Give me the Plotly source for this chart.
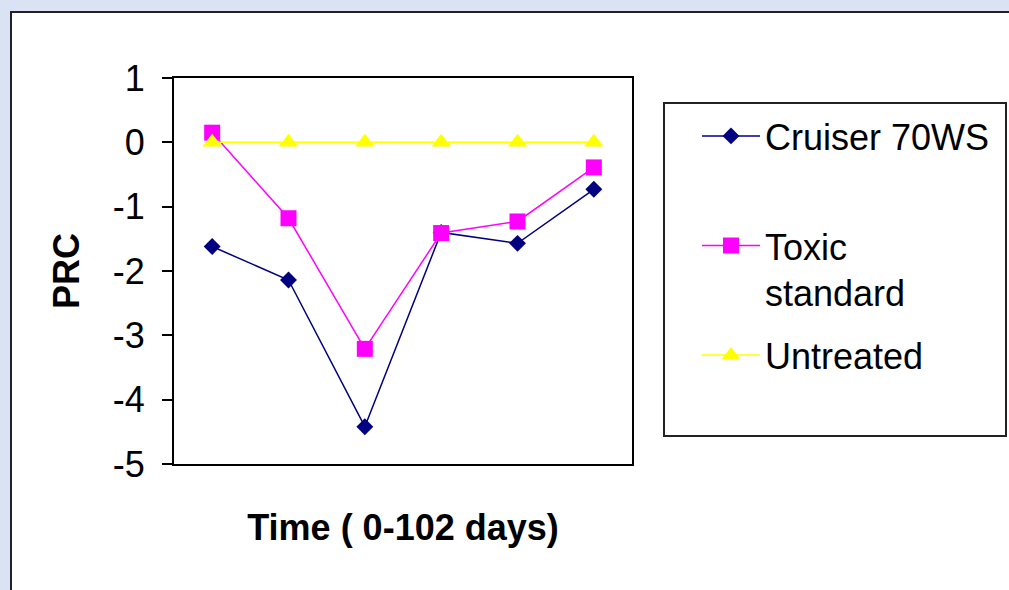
import plotly.graph_objects as go

# ---- data ----
sample_points = [1, 2, 3, 4, 5, 6]
cruiser_70ws = [-1.62, -2.14, -4.42, -1.40, -1.57, -0.73]
toxic_standard = [0.15, -1.18, -3.21, -1.41, -1.23, -0.39]
untreated = [0, 0, 0, 0, 0, 0]
y_ticks = [1, 0, -1, -2, -3, -4, -5]

W, H = 1009, 590
L, R, T, B = 174, 632, 78, 464  # plot area in px


def px(x):
    return (x - L) / (R - L)


def py(y):
    return (B - y) / (B - T)


FONT = "Liberation Sans, Arial, sans-serif"

fig = go.Figure()
fig.add_trace(go.Scatter(
    x=sample_points, y=cruiser_70ws, name="Cruiser 70WS<br> ", legendgroup="a",
    mode="lines+markers", line=dict(color="#000080", width=1.5),
    marker=dict(symbol="diamond", size=13, color="#000080")))
fig.add_trace(go.Scatter(
    x=sample_points, y=toxic_standard, name="Toxic<br>standard", legendgroup="b",
    mode="lines+markers", line=dict(color="#FF00FF", width=1.5),
    marker=dict(symbol="square", size=16, color="#FF00FF")))
fig.add_trace(go.Scatter(
    x=sample_points, y=untreated, name="Untreated", legendgroup="c",
    mode="lines+markers", line=dict(color="#FFFF00", width=1.5),
    marker=dict(symbol="triangle-up", size=17, color="#FFFF00")))

shapes = [
    # white chart panel with border
    dict(type="rect", xref="paper", yref="paper", layer="below",
         x0=px(11), x1=px(1015), y0=py(12), y1=py(600),
         fillcolor="white", line=dict(color="#222222", width=2)),
    # legend box
    dict(type="rect", xref="paper", yref="paper", layer="above",
         x0=px(664), x1=px(1006), y0=py(103), y1=py(436),
         fillcolor="rgba(0,0,0,0)", line=dict(color="#222222", width=2)),
]

fig.update_layout(
    width=W, height=H,
    margin=dict(l=L, r=W - R, t=T, b=H - B, pad=0),
    paper_bgcolor="#dae3f3",
    plot_bgcolor="white",
    font=dict(family=FONT, color="black", size=36),
    shapes=shapes,
    showlegend=True,
    legend=dict(
        x=px(697), y=py(106), xanchor="left", yanchor="top",
        bgcolor="rgba(0,0,0,0)", borderwidth=0,
        font=dict(family=FONT, size=36, color="black"),
        itemwidth=58, tracegroupgap=13, valign="top",
        traceorder="grouped",
    ),
    xaxis=dict(
        range=[0.5, 6.5], showticklabels=False, ticks="",
        showgrid=False, zeroline=False,
        showline=True, linecolor="black", linewidth=2, mirror=True,
        title=dict(text="<b>Time ( 0-102 days)</b>",
                   font=dict(family=FONT, size=36), standoff=50),
    ),
    yaxis=dict(
        range=[-5, 1], tickvals=y_ticks, ticktext=[str(v) for v in y_ticks],
        ticks="outside", ticklen=10, tickwidth=2, tickcolor="black",
        tickfont=dict(family=FONT, size=36), ticklabelstandoff=10,
        showgrid=False, zeroline=False,
        showline=True, linecolor="black", linewidth=2, mirror=True,
        title=dict(text="<b>PRC</b>", font=dict(family=FONT, size=36), standoff=22),
    ),
)

fig.write_html("out.html")
